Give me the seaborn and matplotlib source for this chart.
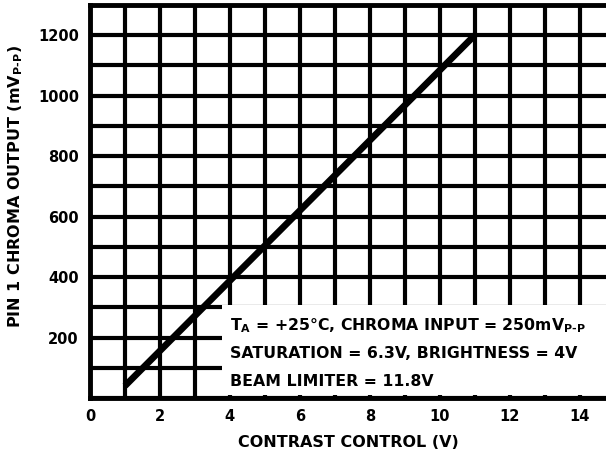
import matplotlib
matplotlib.use("Agg")
import matplotlib.pyplot as plt
import seaborn as sns
import pandas as pd
from matplotlib.patches import Rectangle
from matplotlib.ticker import MultipleLocator

# data
contrast_v = [1, 11]
chroma_mv = [40, 1200]
x_ticks = [0, 2, 4, 6, 8, 10, 12, 14]
y_ticks = [200, 400, 600, 800, 1000, 1200]
notes = [
    r"T$_{A}$ = +25°C, CHROMA INPUT = 250mV$_{P\text{-}P}$",
    "SATURATION = 6.3V, BRIGHTNESS = 4V",
    "BEAM LIMITER = 11.8V",
]

sns.set_theme(style="white")
plt.rcParams["font.family"] = ["DejaVu Sans"]
plt.rcParams["font.weight"] = "bold"
plt.rcParams["text.color"] = "black"
plt.rcParams["axes.labelcolor"] = "black"
plt.rcParams["mathtext.fontset"] = "custom"
plt.rcParams["mathtext.rm"] = "DejaVu Sans:bold"
plt.rcParams["mathtext.it"] = "DejaVu Sans:bold"
plt.rcParams["mathtext.bf"] = "DejaVu Sans:bold"
plt.rcParams["mathtext.default"] = "rm"

df = pd.DataFrame({"contrast": contrast_v, "chroma": chroma_mv})

fig = plt.figure(figsize=(6.06, 4.55), dpi=100)
ax = fig.add_axes([0.1485, 0.1253, 0.8515, 0.864])

ax.set_xlim(0, 14.75)
ax.set_ylim(0, 1300)
ax.xaxis.set_minor_locator(MultipleLocator(1))
ax.yaxis.set_minor_locator(MultipleLocator(100))
ax.set_xticks(x_ticks)
ax.set_yticks(y_ticks)
ax.grid(True, which="both", color="black", linewidth=3.0)
ax.set_axisbelow(True)
ax.tick_params(which="both", length=0, labelsize=10.5, colors="black", pad=8)
for lab in ax.get_xticklabels() + ax.get_yticklabels():
    lab.set_fontweight("bold")
for side, sp in ax.spines.items():
    sp.set_color("black")
    sp.set_linewidth(3.5)
ax.spines["right"].set_visible(False)

sns.lineplot(data=df, x="contrast", y="chroma", color="black", linewidth=4.8,
             ax=ax, zorder=3, solid_capstyle="butt")

# white note box over the lower right grid
ax.add_patch(Rectangle((0.256, 0.008), 0.75, 0.229, transform=ax.transAxes,
                       facecolor="white", edgecolor="none", zorder=4))
for i, line in enumerate(notes):
    ax.text(0.272, 0.183 - i * 0.071, line, transform=ax.transAxes,
            fontsize=11.3, fontweight="bold", va="center", ha="left", zorder=5)

ax.set_xlabel("CONTRAST CONTROL (V)", fontsize=11.5, fontweight="bold", labelpad=8)
ax.set_ylabel(r"PIN 1 CHROMA OUTPUT (mV$_{P\text{-}P}$)", fontsize=11.5,
              fontweight="bold")
ax.yaxis.set_label_coords(-0.125, 0.537)

fig.savefig("out.png", dpi=100)
